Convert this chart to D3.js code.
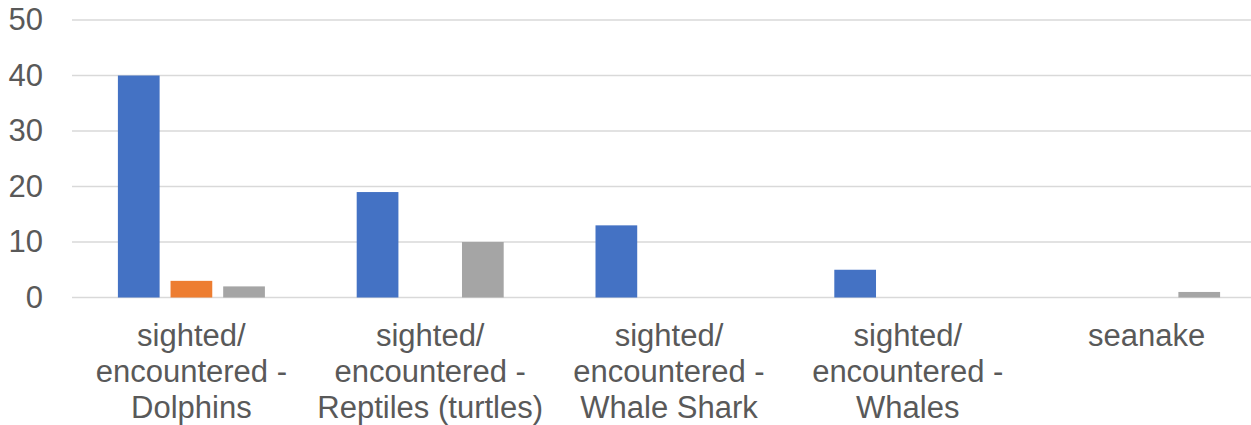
<!DOCTYPE html>
<html lang="en">
<head>
    <meta charset="utf-8">
    <title>Sightings</title>
    <script src="https://d3js.org/d3.v7.min.js"></script>
    <style>
        body { margin: 0; padding: 0; overflow: hidden; background: #fff; }
        text { font-family: "Liberation Sans", Arial, sans-serif; fill: #595959; }
    </style>
</head>
<body>
    <svg id="chart"></svg>
    <script>
        // data
        const categories = [
            "sighted/encountered - Dolphins",
            "sighted/encountered - Reptiles (turtles)",
            "sighted/encountered - Whale Shark",
            "sighted/encountered - Whales",
            "seanake"
        ];
        const series = ["Series 1", "Series 2", "Series 3"];
        const series1 = [40, 19, 13, 5, 0];
        const series2 = [3, 0, 0, 0, 0];
        const series3 = [2, 10, 0, 0, 1];
        const yTicks = [0, 10, 20, 30, 40, 50];
        const colors = ["#4472C4", "#ED7D31", "#A5A5A5"];

        const width = 1251, height = 425;
        const svg = d3.select("#chart").attr("width", width).attr("height", height);

        const x = d3.scaleBand().domain(categories).range([72, 1266]);
        const y = d3.scaleLinear().domain([0, 50]).range([297.5, 20]);

        const groupW = 147;
        const x1 = d3.scaleBand().domain(series)
            .range([(x.bandwidth() - groupW) / 2, (x.bandwidth() + groupW) / 2])
            .paddingInner(11 / 53);

        // gridlines
        svg.append("g")
            .selectAll("line")
            .data(yTicks)
            .join("line")
            .attr("x1", 72).attr("x2", 1266)
            .attr("y1", d => y(d)).attr("y2", d => y(d))
            .attr("stroke", "#d9d9d9")
            .attr("stroke-width", 1.5);

        // y labels
        svg.append("g")
            .selectAll("text")
            .data(yTicks)
            .join("text")
            .attr("x", 43)
            .attr("y", d => y(d) - 1)
            .attr("dy", "0.36em")
            .attr("text-anchor", "end")
            .style("font-size", "31px")
            .text(d => d);

        // bars
        const values = [series1, series2, series3];
        const rows = [];
        categories.forEach((c, i) => {
            series.forEach((s, j) => {
                rows.push({ cat: c, s: s, v: values[j][i], color: colors[j] });
            });
        });

        svg.append("g")
            .selectAll("rect")
            .data(rows.filter(d => d.v > 0))
            .join("rect")
            .attr("x", d => x(d.cat) + x1(d.s))
            .attr("width", x1.bandwidth())
            .attr("y", d => y(d.v))
            .attr("height", d => y(0) - y(d.v))
            .attr("fill", d => d.color);

        // category labels, wrapped like Excel (break at spaces and after "/")
        function tokens(str) {
            const out = [];
            str.split(" ").forEach((w, wi) => {
                const parts = w.split(/(?<=\/)/);
                parts.forEach((p, pi) => out.push({ t: p, sp: wi > 0 && pi === 0 }));
            });
            return out;
        }

        const maxW = 232;
        const labels = svg.append("g");
        categories.forEach(c => {
            const cx = x(c) + x.bandwidth() / 2;
            const t = labels.append("text")
                .attr("text-anchor", "middle")
                .style("font-size", "31px");
            const probe = t.append("tspan");
            const lines = [];
            let cur = "";
            tokens(c).forEach(tk => {
                const trial = cur === "" ? tk.t : cur + (tk.sp ? " " : "") + tk.t;
                probe.text(trial);
                if (cur !== "" && probe.node().getComputedTextLength() > maxW) {
                    lines.push(cur);
                    cur = tk.t;
                } else {
                    cur = trial;
                }
            });
            lines.push(cur);
            probe.remove();
            lines.forEach((ln, i) => {
                t.append("tspan")
                    .attr("x", cx)
                    .attr("y", 346 + i * 36)
                    .text(ln);
            });
        });
    </script>
</body>
</html>
